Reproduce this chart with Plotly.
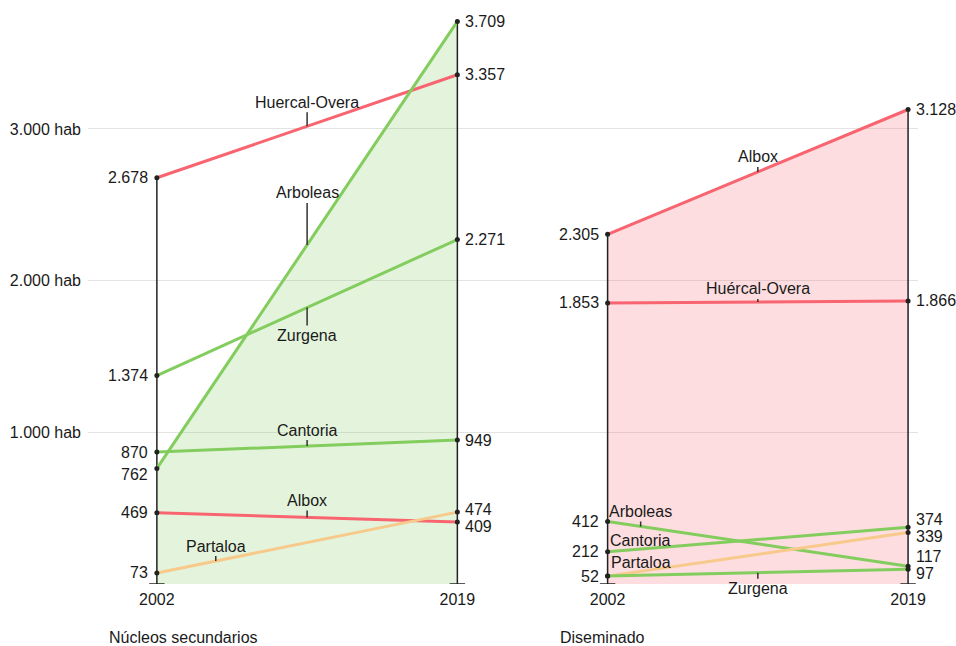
import plotly.graph_objects as go

# ---------------- data ----------------
years = [2002, 2019]

panel_titles = ["Núcleos secundarios", "Diseminado"]

nucleos_municipios = ["Huercal-Overa", "Arboleas", "Zurgena", "Cantoria", "Albox", "Partaloa"]
nucleos_2002 = [2678, 762, 1374, 870, 469, 73]
nucleos_2019 = [3357, 3709, 2271, 949, 409, 474]

diseminado_municipios = ["Albox", "Huércal-Overa", "Arboleas", "Cantoria", "Partaloa", "Zurgena"]
diseminado_2002 = [2305, 1853, 412, 212, 52, 52]
diseminado_2019 = [3128, 1866, 117, 374, 339, 97]

y_ticks = [1000, 2000, 3000]

# ---------------- style ----------------
RED = "rgb(248,100,111)"
GREEN = "rgb(131,204,94)"
ORANGE = "rgb(247,201,138)"
colors = {
    "Huercal-Overa": RED, "Huércal-Overa": RED, "Albox": RED,
    "Arboleas": GREEN, "Zurgena": GREEN, "Cantoria": GREEN,
    "Partaloa": ORANGE,
}
FONT = "Arial, Liberation Sans, sans-serif"
TXT = "#1a1a1a"
AXC = "#222222"

panel_offsets = [0.0, 1.5]

# name label placement: (fraction along line, vertical pixel offset of text)
name_style = [
    {"Huercal-Overa": (0.5, -24), "Arboleas": (0.5, -52), "Zurgena": (0.5, 28),
     "Cantoria": (0.5, -16), "Albox": (0.5, -17), "Partaloa": (0.196, -15)},
    {"Albox": (0.5, -15), "Huércal-Overa": (0.5, -13), "Arboleas": (0.11, -15),
     "Cantoria": (0.11, -9), "Partaloa": (0.11, -9), "Zurgena": (0.5, 16)},
]
# value label nudges (pixels downwards) to avoid overlaps
value_nudge = [
    {(0, 762): 6, (1, 474): -3, (1, 409): 5},
    {(1, 374): -8, (1, 339): 4, (1, 117): -10, (1, 97): 4},
]

panels = [
    (nucleos_municipios, nucleos_2002, nucleos_2019),
    (diseminado_municipios, diseminado_2002, diseminado_2019),
]


def fmt(v):
    return f"{v:,}".replace(",", ".")


def xpos(p, year):
    return panel_offsets[p] + (year - years[0]) / (years[-1] - years[0])


fig = go.Figure()
annotations = []

for p, (names, v0, v1) in enumerate(panels):
    xs = [xpos(p, y) for y in years]
    # filled area under the series with the largest final value
    imax = max(range(len(names)), key=lambda i: v1[i])
    c = colors[names[imax]]
    fig.add_trace(go.Scatter(
        x=xs, y=[v0[imax], v1[imax]], mode="lines", fill="tozeroy",
        fillcolor=c.replace("rgb", "rgba").replace(")", ",0.22)"),
        line=dict(width=0), hoverinfo="skip", showlegend=False))
    # vertical axes for each year
    for k, vals in enumerate([v0, v1]):
        fig.add_trace(go.Scatter(
            x=[xs[k], xs[k]], y=[0, max(vals)], mode="lines",
            line=dict(color=AXC, width=1.5), hoverinfo="skip", showlegend=False))
        fig.add_trace(go.Scatter(
            x=[xs[k]], y=[0], mode="markers",
            marker=dict(symbol="line-ew", size=11, line=dict(color=AXC, width=1.5)),
            hoverinfo="skip", showlegend=False))
    # slope lines
    for i, n in enumerate(names):
        fig.add_trace(go.Scatter(
            x=xs, y=[v0[i], v1[i]], mode="lines",
            line=dict(color=colors[n], width=3), name=n, showlegend=False))
    # end points
    for k, vals in enumerate([v0, v1]):
        fig.add_trace(go.Scatter(
            x=[xs[k]] * len(vals), y=vals, mode="markers",
            marker=dict(color=AXC, size=5), hoverinfo="skip", showlegend=False))
        seen = set()
        for v in vals:
            if v in seen:
                continue
            seen.add(v)
            nudge = value_nudge[p].get((k, v), 0)
            annotations.append(dict(
                x=xs[k], y=v, text=fmt(v), showarrow=False,
                xanchor="right" if k == 0 else "left",
                xshift=-7 if k == 0 else 6, yshift=-nudge,
                font=dict(size=16, color=TXT, family=FONT)))
    # name labels
    for i, n in enumerate(names):
        frac, dy = name_style[p][n]
        lx = xs[0] + frac * (xs[1] - xs[0])
        ly = v0[i] + frac * (v1[i] - v0[i])
        annotations.append(dict(
            x=lx, y=ly, text=n, showarrow=True, arrowhead=0, arrowwidth=1.5,
            arrowcolor="#333333", ax=0, ay=dy, standoff=0,
            font=dict(size=16, color=TXT, family=FONT)))
    # panel title
    annotations.append(dict(
        x=xs[0], y=0, xref="x", yref="paper", text=panel_titles[p],
        showarrow=False, xanchor="left", yanchor="middle",
        xshift=-50, yshift=-53, font=dict(size=16, color=TXT, family=FONT)))

tickvals = [xpos(p, y) for p in range(len(panels)) for y in years]
ticktext = [str(y) for p in range(len(panels)) for y in years]

fig.update_layout(
    width=956, height=646,
    margin=dict(l=88, r=38, t=10, b=62),
    paper_bgcolor="white", plot_bgcolor="white",
    font=dict(family=FONT, size=16, color=TXT),
    annotations=annotations,
    xaxis=dict(range=[-0.2292, 2.533], tickvals=tickvals, ticktext=ticktext,
               showgrid=False, zeroline=False, showline=False, ticks="",
               ticklabelstandoff=4, tickfont=dict(size=16, color=TXT)),
    yaxis=dict(range=[0, 3784], tickvals=y_ticks,
               ticktext=[fmt(v) + " hab" for v in y_ticks],
               showgrid=True, gridcolor="#e3e3e3", gridwidth=1,
               zeroline=False, showline=False, ticks="",
               ticklabelstandoff=6, tickfont=dict(size=16, color=TXT)),
)

# remove the page's default body margin so the figure fills the window exactly
fig.write_html(
    "out.html",
    config={"displayModeBar": False},
    post_script="document.body.style.margin='0';document.body.style.overflow='hidden';",
)
